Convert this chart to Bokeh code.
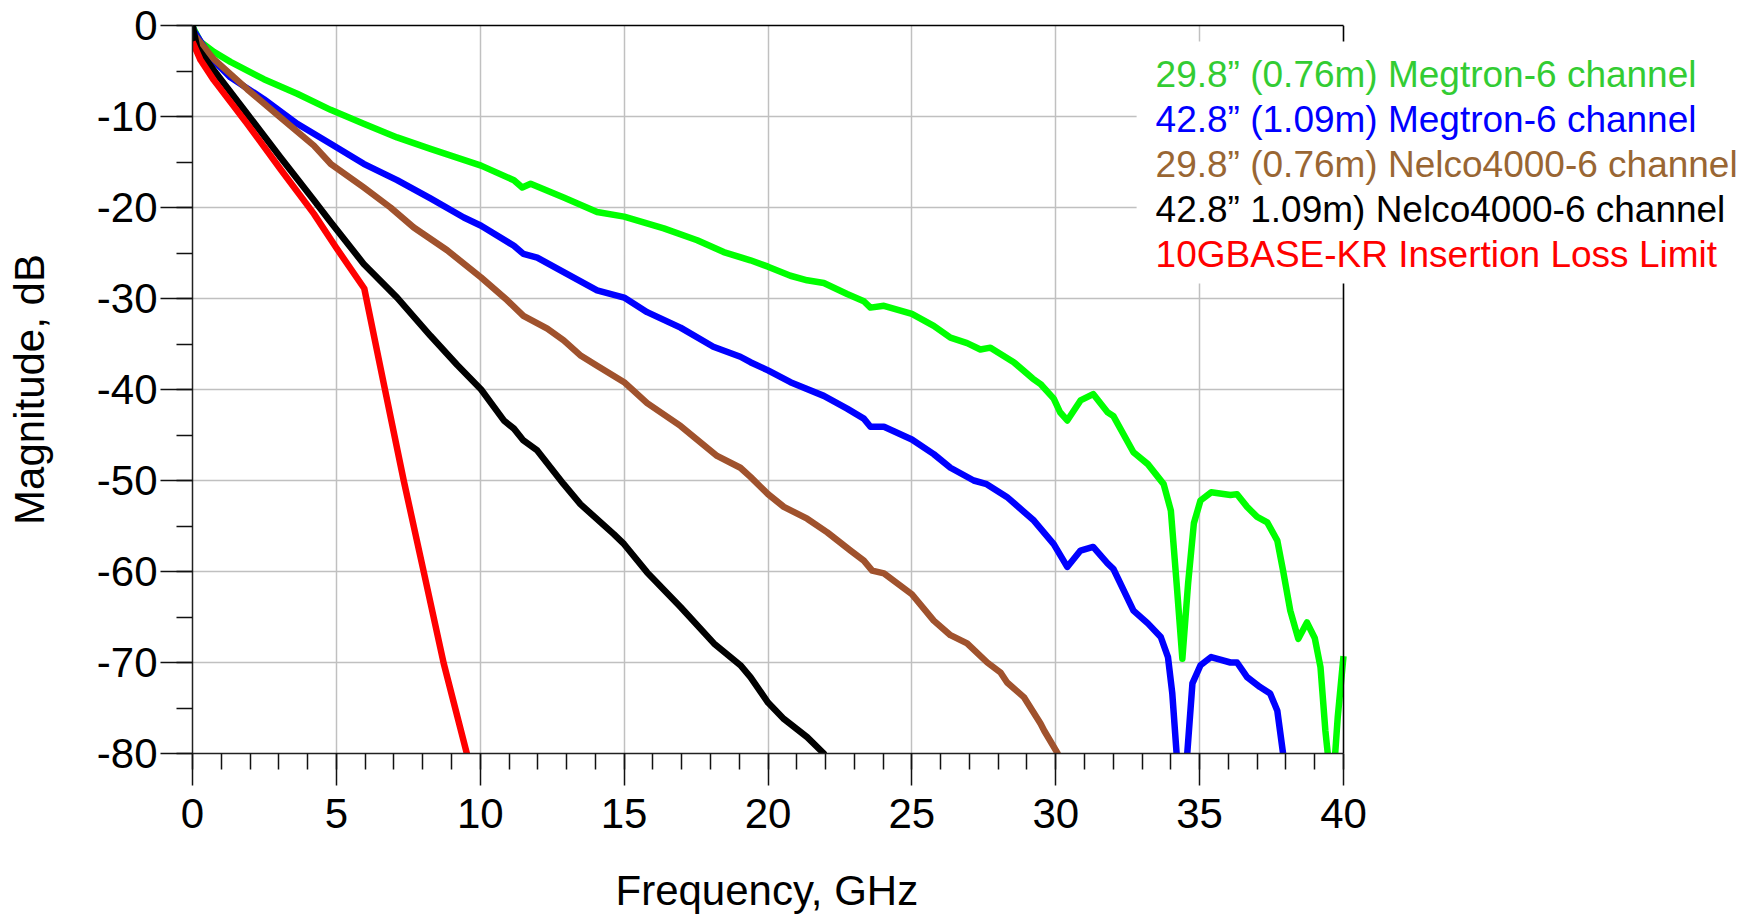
from bokeh.plotting import figure
from bokeh.models import (Range1d, SingleIntervalTicker, FixedTicker, Label, LinearAxis,
                          Span, BoxAnnotation, Title)
from bokeh.embed import file_html
from bokeh.resources import INLINE

FONT = "Liberation Sans"

# ---- data ----
green_f = [0, 0.05, 0.28, 0.74, 1.32, 2.48, 3.64, 4.8, 5.95, 7.11, 8.27, 10.03, 11.17, 11.46, 11.75,
           12.9, 14.06, 15.0, 16.38, 17.54, 18.46, 19.39, 20.0, 20.78, 21.36, 21.94, 22.75, 23.33,
           23.56, 24.03, 25.0, 25.76, 26.34, 26.92, 27.38, 27.73, 28.54, 29.2, 29.47, 29.93, 30.15,
           30.4, 30.86, 31.3, 31.8, 32.0, 32.7, 33.2, 33.75, 34.0, 34.2, 34.4, 34.6, 34.8, 35.03,
           35.4, 36.07, 36.3, 36.65, 37.0, 37.35, 37.7, 37.9, 38.15, 38.43, 38.73, 39.0, 39.2,
           39.37, 39.47, 39.58, 39.7, 39.8, 40.0]
green_db = [0, -0.4, -1.8, -2.9, -4.0, -5.9, -7.5, -9.27, -10.8, -12.3, -13.55, -15.4, -17.0, -17.8, -17.4,
            -18.9, -20.5, -21.0, -22.3, -23.6, -24.9, -25.8, -26.5, -27.5, -28.0, -28.3, -29.5, -30.3,
            -31.0, -30.8, -31.7, -33.0, -34.3, -34.9, -35.6, -35.4, -37.0, -38.8, -39.4, -41.0, -42.5,
            -43.4, -41.2, -40.5, -42.5, -42.9, -46.9, -48.2, -50.4, -53.3, -61.3, -69.6, -61.3, -54.7, -52.2,
            -51.3, -51.6, -51.5, -52.9, -54.0, -54.6, -56.6, -59.9, -64.3, -67.4, -65.6, -67.3, -70.5,
            -77.5, -80.5, -82.0, -80.5, -76.0, -69.3]

blue_f = [0, 0.05, 0.63, 1.32, 2.48, 3.64, 4.8, 5.95, 7.11, 8.27, 9.43, 10.03, 11.17, 11.5, 11.98,
          12.9, 14.06, 15.0, 15.8, 16.96, 18.1, 19.04, 19.39, 20.0, 20.78, 21.94, 22.75, 23.33, 23.56,
          24.03, 25.0, 25.76, 26.34, 27.15, 27.6, 28.3, 29.24, 29.93, 30.4, 30.86, 31.3, 31.8, 32.0,
          32.7, 33.2, 33.65, 33.9, 34.05, 34.2, 34.38, 34.57, 34.75, 35.03, 35.4, 36.07, 36.3, 36.65,
          37.1, 37.45, 37.7, 37.9, 37.95]
blue_db = [0, -0.6, -3.5, -5.7, -8.1, -10.8, -13.0, -15.2, -17.0, -19.0, -21.1, -22.0, -24.2, -25.1, -25.5,
           -27.1, -29.1, -29.9, -31.5, -33.2, -35.3, -36.4, -37.0, -37.9, -39.2, -40.7, -42.1, -43.2, -44.1,
           -44.1, -45.5, -47.1, -48.6, -50.0, -50.4, -51.8, -54.4, -57.0, -59.5, -57.7, -57.3, -59.1, -59.7,
           -64.3, -65.7, -67.2, -69.4, -73.4, -80.0, -88.0, -80.0, -72.3, -70.3, -69.4, -70.0, -70.0, -71.6,
           -72.7, -73.4, -75.3, -80.0, -81.0]

brown_f = [0, 0.05, 0.74, 1.9, 3.06, 4.22, 4.8, 5.95, 6.88, 7.69, 8.85, 10.03, 10.94, 11.5, 12.33,
           12.9, 13.5, 14.06, 15.0, 15.8, 16.96, 18.23, 19.04, 19.39, 20.0, 20.55, 21.36, 22.06, 22.87,
           23.33, 23.62, 24.03, 25.0, 25.76, 26.34, 26.92, 27.62, 28.08, 28.31, 28.89, 29.47, 29.6,
           30.05, 30.2]
brown_db = [0, -1.0, -3.7, -7.0, -10.1, -13.2, -15.2, -17.8, -20.0, -22.2, -24.7, -27.7, -30.2, -31.9, -33.3,
            -34.6, -36.3, -37.4, -39.2, -41.5, -44.0, -47.3, -48.6, -49.6, -51.5, -52.9, -54.2, -55.7, -57.7,
            -58.8, -59.9, -60.2, -62.5, -65.4, -67.0, -67.9, -70.0, -71.1, -72.2, -73.8, -76.7, -77.5,
            -79.9, -81.0]

black_f = [0, 0.16, 0.74, 1.9, 3.06, 4.22, 4.8, 5.95, 7.11, 8.27, 9.2, 10.03, 10.82, 11.17, 11.5,
           11.98, 12.9, 13.48, 14.64, 15.0, 15.8, 16.96, 18.12, 19.04, 19.39, 20.0, 20.55, 21.36,
           21.94, 22.0]
black_db = [0, -2.4, -4.9, -9.7, -14.5, -19.2, -21.6, -26.2, -29.9, -34.1, -37.3, -40.0, -43.4, -44.3, -45.6,
            -46.7, -50.4, -52.6, -55.9, -57.0, -60.1, -63.9, -67.9, -70.3, -71.6, -74.4, -76.2, -78.2,
            -80.0, -80.5]

red_f = [0, 0.28, 0.74, 1.9, 3.06, 4.22, 4.99, 5.97, 6.65, 7.34, 8.04, 8.73, 9.55]
red_db = [-1.8, -3.8, -6.0, -10.8, -15.8, -20.7, -24.4, -28.9, -39.4, -50.0, -60.1, -70.1, -80.2]

x_ticks = [0, 5, 10, 15, 20, 25, 30, 35, 40]
y_ticks = [0, -10, -20, -30, -40, -50, -60, -70, -80]

legend_texts = [
    "29.8\u201d (0.76m) Megtron-6 channel",
    "42.8\u201d (1.09m) Megtron-6 channel",
    "29.8\u201d (0.76m) Nelco4000-6 channel",
    "42.8\u201d 1.09m) Nelco4000-6 channel",
    "10GBASE-KR Insertion Loss Limit",
]
legend_colors = ["#33CC33", "#0000FF", "#996633", "#000000", "#FF0000"]
legend_y = [-5.34, -10.29, -15.23, -20.18, -25.12]

series = [
    (green_f, green_db, "#00FF00"),
    (blue_f, blue_db, "#0000FF"),
    (brown_f, brown_db, "#A0522D"),
    (black_f, black_db, "#000000"),
    (red_f, red_db, "#FF0000"),
]

# ---- layout: data area 0..40 GHz, frame extended to the right for the key ----
X_MAX = 40
PX_PER_GHZ = 1151 / 40.0
FRAME_W = 1557
x_end = FRAME_W / PX_PER_GHZ

p = figure(frame_width=FRAME_W, frame_height=728,
           x_range=Range1d(0, x_end), y_range=Range1d(-80, 0),
           output_backend="svg", toolbar_location=None,
           min_border_left=192, min_border_right=0,
           min_border_top=25, min_border_bottom=160)

p.background_fill_color = "white"
p.border_fill_color = "white"
p.outline_line_color = None

p.xaxis.ticker = SingleIntervalTicker(interval=5, num_minor_ticks=5)
p.yaxis.ticker = SingleIntervalTicker(interval=10, num_minor_ticks=2)
p.xaxis.bounds = (0, X_MAX)
p.xgrid.ticker = SingleIntervalTicker(interval=5)
p.ygrid.ticker = SingleIntervalTicker(interval=10)
p.xgrid.bounds = (0, X_MAX)
p.ygrid.cross_bounds = (0, X_MAX)
p.yaxis.major_label_overrides = {v: str(v) for v in y_ticks}
p.xaxis.major_label_overrides = {v: str(v) for v in x_ticks}

for g in (p.xgrid, p.ygrid):
    g.grid_line_color = "#C0C0C0"
    g.grid_line_width = 1.5

for ax in (p.xaxis, p.yaxis):
    ax.axis_line_color = "#222222"
    ax.axis_line_width = 1.5
    ax.major_tick_line_color = "#111111"
    ax.minor_tick_line_color = "#111111"
    ax.major_tick_line_width = 1.5
    ax.minor_tick_line_width = 1.5
    ax.major_tick_in = 0
    ax.major_tick_out = 32
    ax.minor_tick_in = 0
    ax.minor_tick_out = 16
    ax.major_label_text_font = FONT
    ax.major_label_text_font_size = "42px"
    ax.major_label_text_color = "black"
    ax.axis_label_text_font = FONT
    ax.axis_label_text_font_size = "42px"
    ax.axis_label_text_font_style = "normal"
    ax.axis_label_text_color = "black"

p.yaxis.axis_label = "Magnitude, dB"
p.xaxis.major_label_standoff = 13
p.yaxis.major_label_standoff = 3
p.yaxis.axis_label_standoff = 41

# x-axis title, centred under the 0..40 GHz data area
p.add_layout(Title(text="Frequency, GHz", align="left", offset=423, standoff=68,
                   text_font=FONT, text_font_size="42px", text_font_style="normal",
                   text_color="black"), "below")

# top border of the data area
top_ax = LinearAxis(bounds=(0, X_MAX), ticker=FixedTicker(ticks=[]),
                    axis_line_color="black", axis_line_width=1.5,
                    major_tick_out=0, major_tick_in=0, minor_tick_out=0, minor_tick_in=0,
                    major_label_text_color=None)
p.add_layout(top_ax, "above")

# right border of the data area
p.add_layout(Span(location=X_MAX, dimension="height", line_color="black", line_width=1.5))

for f, db, c in series:
    p.line(f, db, line_color=c, line_width=6.5, line_join="round", line_cap="butt")

# white box behind the key
p.add_layout(BoxAnnotation(left=32.81, right=x_end, top=-1.76, bottom=-28.35,
                           fill_color="white", fill_alpha=1.0, line_color=None))

for t, c, yy in zip(legend_texts, legend_colors, legend_y):
    p.add_layout(Label(x=33.47, y=yy, text=t, text_color=c, text_font=FONT,
                       text_font_size="37px", text_baseline="alphabetic"))

open("out.html", "w").write(file_html(p, INLINE))
